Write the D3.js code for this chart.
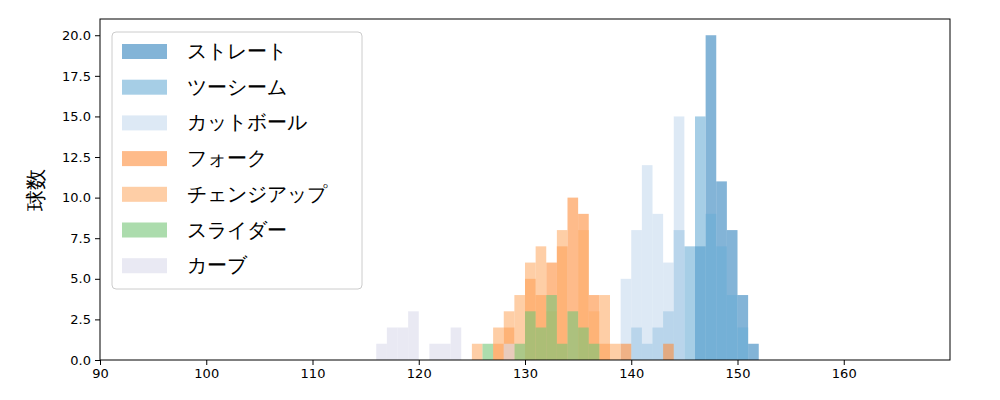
<!DOCTYPE html><html><head><meta charset="utf-8"><script src="https://cdn.jsdelivr.net/npm/d3@7"></script>
<style>body{margin:0;background:#fff}text{font-family:"DejaVu Sans",sans-serif}</style></head><body><svg id="c" width="1000" height="400"></svg>
<script>
const seriesNames=["ストレート","ツーシーム","カットボール","フォーク","チェンジアップ","スライダー","カーブ"];
const seriesColors=["#3182bd","#6baed6","#c6dbef","#fd8d3c","#fdae6b","#74c476","#dadaeb"];
// [binStart,count]
const straight=[[146,7],[147,20],[148,11],[149,8],[150,4],[151,1]];
const twoSeam=[[140,2],[141,1],[142,2],[143,3],[144,8],[145,7],[146,15],[147,9],[148,7],[149,4],[150,2]];
const cutBall=[[139,5],[140,8],[141,12],[142,9],[143,6],[144,15]];
const fork=[[127,1],[128,2],[130,5],[131,4],[132,6],[133,7],[134,10],[135,9],[136,4],[137,1],[139,1],[143,1]];
const changeup=[[125,1],[127,2],[128,3],[129,4],[130,6],[131,7],[132,3],[133,8],[135,8],[136,3],[137,4],[138,1]];
const slider=[[126,1],[129,1],[130,3],[131,2],[132,4],[133,1],[134,3],[135,2],[136,1]];
const curve=[[116,1],[117,2],[118,2],[119,3],[121,1],[122,1],[123,2],[128,1]];
const xTicks=[90,100,110,120,130,140,150,160];
const yTicks=[0,2.5,5,7.5,10,12.5,15,17.5,20];
const all=[straight,twoSeam,cutBall,fork,changeup,slider,curve];
const svg=d3.select("#c");
const x=d3.scaleLinear().domain([90,170]).range([100,950]);
const y=d3.scaleLinear().domain([0,21]).range([360,19]);
all.forEach((s,i)=>{svg.append("g").selectAll("rect").data(s).join("rect")
 .attr("x",d=>x(d[0])).attr("width",x(d3.min(s,d=>d[0])+1)-x(d3.min(s,d=>d[0])))
 .attr("y",d=>y(d[1])).attr("height",d=>y(0)-y(d[1])).attr("fill",seriesColors[i]).attr("fill-opacity",0.6);});
const gx=svg.append("g").attr("transform","translate(0,360)").call(d3.axisBottom(x).tickValues(xTicks).tickSizeOuter(0).tickFormat(d3.format("d")));
const gy=svg.append("g").attr("transform","translate(100,0)").call(d3.axisLeft(y).tickValues(yTicks).tickSizeOuter(0).tickFormat(d3.format(".1f")));
[gx,gy].forEach(g=>{g.selectAll("text").attr("font-size",13).attr("fill","#000");g.select(".domain").remove();g.selectAll("line").attr("stroke","#000").attr("stroke-width",1)});
gx.selectAll("line").attr("y2",5);gy.selectAll("line").attr("x2",-5);
svg.append("rect").attr("x",100).attr("y",19).attr("width",850).attr("height",341).attr("fill","none").attr("stroke","#000").attr("stroke-width",1);
svg.append("text").attr("transform","translate(43,190) rotate(-90)").attr("text-anchor","middle").attr("font-size",21).text("球数");
const lg=svg.append("g");
lg.append("rect").attr("x",112).attr("y",32).attr("width",250).attr("height",257).attr("rx",4).attr("fill","#fff").attr("fill-opacity",0.8).attr("stroke","#ccc");
seriesNames.forEach((n,i)=>{const yy=51+i*35.7;
 lg.append("rect").attr("x",122).attr("y",yy-7).attr("width",45).attr("height",15).attr("fill",seriesColors[i]).attr("fill-opacity",0.6);
 lg.append("text").attr("x",187).attr("y",yy+7).attr("font-size",20).text(n);});
</script></body></html>
